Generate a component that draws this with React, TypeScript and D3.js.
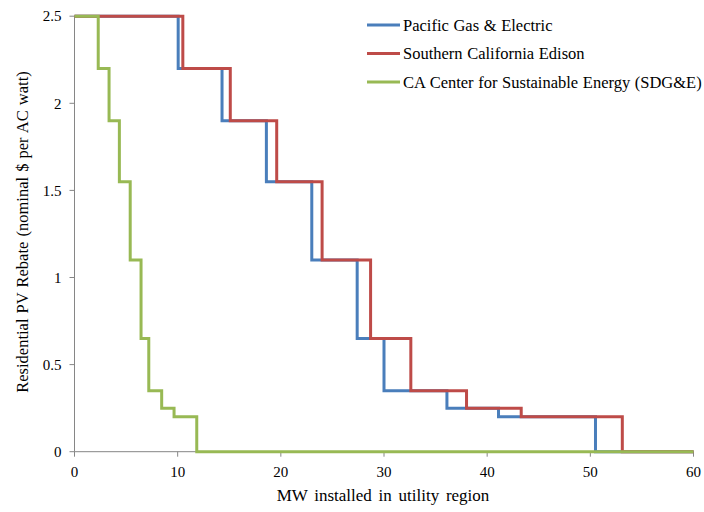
import React from "react";
import * as d3 from "d3";

// Rebate levels ($ per AC watt) for each step
const rebateLevels = [2.5, 2.2, 1.9, 1.55, 1.1, 0.65, 0.35, 0.25, 0.2, 0];
// Cumulative MW at which each level begins (first entry = start of the curve)
const pgeBreaks = [0, 10.05, 14.3, 18.6, 23.0, 27.4, 30.0, 36.1, 41.1, 50.5];
const sceBreaks = [0, 10.5, 15.1, 19.6, 24.0, 28.7, 32.6, 38.0, 43.3, 53.1];
const cseBreaks = [0, 2.3, 3.35, 4.35, 5.4, 6.45, 7.2, 8.45, 9.65, 11.85];
const xMax = 60;

const xTicks = [0, 10, 20, 30, 40, 50, 60];
const yTicks = [0, 0.5, 1, 1.5, 2, 2.5];

const seriesList = [
  { name: "Pacific Gas & Electric", breaks: pgeBreaks, color: "#4a7ebb" },
  { name: "Southern California Edison", breaks: sceBreaks, color: "#be4b48" },
  { name: "CA Center for Sustainable Energy (SDG&E)", breaks: cseBreaks, color: "#98b954" },
];

const W = 704;
const H = 512;
const M = { left: 74.5, right: 704 - 693.5, top: 16.2, bottom: 512 - 451.7 };
const FONT = "'Liberation Serif', 'Times New Roman', serif";

export default function App() {
  const x = d3.scaleLinear().domain([0, xMax]).range([M.left, W - M.right]);
  const y = d3.scaleLinear().domain([0, 2.5]).range([H - M.bottom, M.top]);
  const line = d3
    .line<[number, number]>()
    .x((d) => x(d[0]))
    .y((d) => y(d[1]))
    .curve(d3.curveStepAfter);

  const axisColor = "#868686";
  const y0 = y(0);
  const txt = (size: number, wordSpacing = 0): React.CSSProperties => ({
    fontFamily: FONT,
    fontSize: size,
    wordSpacing,
  });

  return (
    <svg width={W} height={H} style={{ position: "absolute", left: 0, top: 0, background: "#fff" }}>
      {/* axes */}
      <line x1={x(0)} x2={x(0)} y1={y(2.5)} y2={y0} stroke={axisColor} strokeWidth={1} />
      <line x1={x(0)} x2={x(xMax)} y1={y0} y2={y0} stroke={axisColor} strokeWidth={1} />
      {yTicks.map((t) => (
        <g key={"y" + t}>
          <line x1={x(0) - 5} x2={x(0)} y1={y(t)} y2={y(t)} stroke={axisColor} />
          <text x={x(0) - 13} y={y(t)} dy="0.35em" textAnchor="end" style={txt(15)} fill="#000">
            {t}
          </text>
        </g>
      ))}
      {xTicks.map((t) => (
        <g key={"x" + t}>
          <line x1={x(t)} x2={x(t)} y1={y0} y2={y0 + 5} stroke={axisColor} />
          <text x={x(t)} y={y0 + 25} textAnchor="middle" style={txt(15)} fill="#000">
            {t}
          </text>
        </g>
      ))}

      {/* step series */}
      {seriesList.map((s) => {
        const pts: [number, number][] = s.breaks.map((b, i) => [b, rebateLevels[i]]);
        pts.push([xMax, 0]);
        return (
          <path
            key={s.name}
            d={line(pts) || ""}
            fill="none"
            stroke={s.color}
            strokeWidth={3}
            strokeLinejoin="miter"
          />
        );
      })}

      {/* legend */}
      {seriesList.map((s, i) => (
        <g key={"lg" + i} transform={`translate(367, ${25 + i * 28.5})`}>
          <line x1={0} x2={33} y1={0} y2={0} stroke={s.color} strokeWidth={3} />
          <text x={36} y={0} dy="0.35em" style={txt(16.5, 0.5)} fill="#000">
            {s.name}
          </text>
        </g>
      ))}

      {/* axis titles */}
      <text x={383} y={501} textAnchor="middle" style={txt(17, 2.5)} fill="#000">
        MW installed in utility region
      </text>
      <text
        transform={`translate(28, ${232}) rotate(-90)`}
        textAnchor="middle"
        style={txt(16.5, 1)}
        fill="#000"
      >
        Residential PV Rebate (nominal $ per AC watt)
      </text>
    </svg>
  );
}
